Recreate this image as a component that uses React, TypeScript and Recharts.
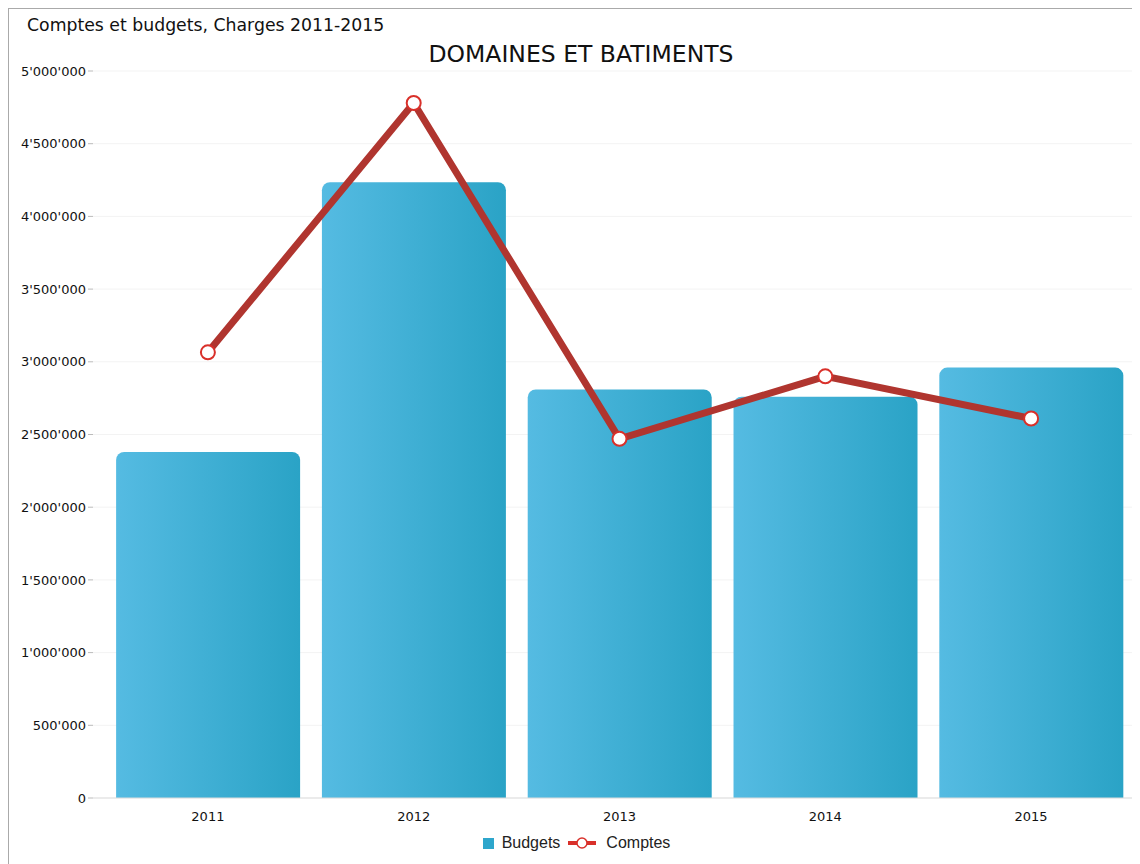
import { ComposedChart, Bar, Line, XAxis, YAxis, CartesianGrid, Legend } from "recharts";

const years = ["2011", "2012", "2013", "2014", "2015"];
const budgets = [2380000, 4235000, 2810000, 2760000, 2960000];
const comptes = [3065000, 4780000, 2470000, 2900000, 2610000];
const yTicks = [0, 500000, 1000000, 1500000, 2000000, 2500000, 3000000, 3500000, 4000000, 4500000, 5000000];

const data = years.map((year, i) => ({ year, budgets: budgets[i], comptes: comptes[i] }));

const fmt = (v: number) => String(v).replace(/\B(?=(\d{3})+(?!\d))/g, "'");

function LegendContent() {
  return (
    <div style={{ display: "flex", justifyContent: "center", alignItems: "center", fontFamily: "'Liberation Sans', Arial, sans-serif", fontSize: 16, color: "#222", paddingLeft: 10, paddingTop: 6 }}>
      <span style={{ width: 11, height: 11, background: "#2ea6cc", display: "inline-block", marginRight: 8 }} />
      <span style={{ marginRight: 8 }}>Budgets</span>
      <svg width={28} height={14} style={{ marginRight: 10 }}>
        <line x1={0} y1={7} x2={28} y2={7} stroke="#d9302a" strokeWidth={4} />
        <circle cx={14} cy={7} r={5} fill="#fff" stroke="#d9302a" strokeWidth={1.5} />
      </svg>
      <span>Comptes</span>
    </div>
  );
}

export default function App() {
  return (
    <div style={{ position: "relative", width: 1131, height: 856, borderLeft: "1px solid #aaa", borderTop: "1px solid #aaa", background: "#fff" }}>
      <div style={{ position: "absolute", left: 18, top: 6, fontFamily: "'DejaVu Sans', Verdana, sans-serif", fontSize: 17.3, color: "#111" }}>
        Comptes et budgets, Charges 2011-2015
      </div>
      <div style={{ position: "absolute", left: 0, width: 1144, top: 31, textAlign: "center", fontFamily: "'DejaVu Sans', Verdana, sans-serif", fontSize: 23.5, color: "#111" }}>
        DOMAINES ET BATIMENTS
      </div>
      <ComposedChart width={1131} height={856} data={data} barCategoryGap="5.4%" margin={{ top: 62, right: 6, bottom: 9, left: 0 }}>
        <defs>
          <linearGradient id="barGrad" x1="0" y1="0" x2="1" y2="0">
            <stop offset="0%" stopColor="#55bbe2" />
            <stop offset="100%" stopColor="#2aa3c6" />
          </linearGradient>
        </defs>
        <CartesianGrid vertical={false} stroke="#f3f3f3" />
        <XAxis
          dataKey="year"
          padding={{ left: 12, right: 0 }}
          axisLine={{ stroke: "#ddd" }}
          tickLine={false}
          tick={{ fontSize: 13, fill: "#111", fontFamily: "'DejaVu Sans', Verdana, sans-serif" }}
          tickMargin={8}
          height={30}
        />
        <YAxis
          width={84}
          domain={[0, 5000000]}
          ticks={yTicks}
          tickFormatter={fmt}
          axisLine={false}
          tickLine={{ stroke: "#bbb" }}
          tickSize={5}
          tick={{ fontSize: 13, fill: "#111", fontFamily: "'DejaVu Sans', Verdana, sans-serif" }}
        />
        <Legend verticalAlign="bottom" height={28} content={<LegendContent />} />
        <Bar dataKey="budgets" name="Budgets" fill="url(#barGrad)" radius={[8, 8, 0, 0]} isAnimationActive={false} />
        <Line
          dataKey="comptes"
          name="Comptes"
          type="linear"
          stroke="#b0352f"
          strokeWidth={7}
          dot={{ r: 7, fill: "#fff", stroke: "#d9302a", strokeWidth: 2 }}
          activeDot={false}
          isAnimationActive={false}
        />
      </ComposedChart>
    </div>
  );
}
